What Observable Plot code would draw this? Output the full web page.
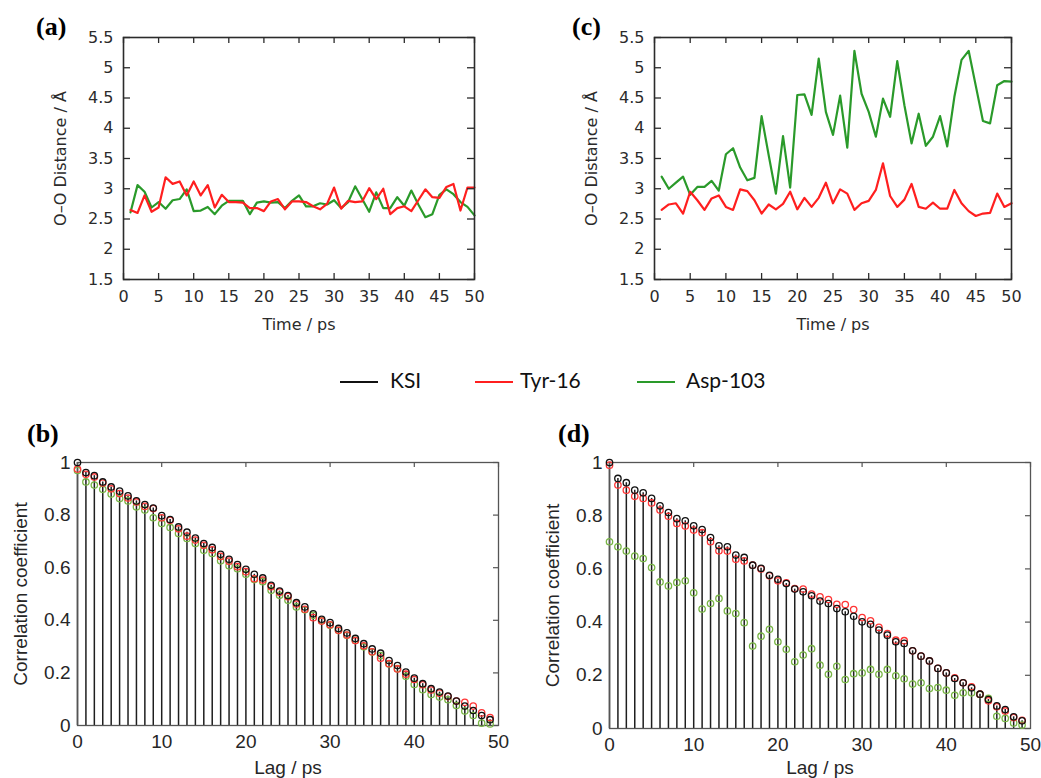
<!DOCTYPE html>
<html>
<head>
<meta charset="utf-8">
<script src="https://cdn.jsdelivr.net/npm/d3@7"></script>
<script src="https://cdn.jsdelivr.net/npm/@observablehq/plot@0.6"></script>
<style>
  html, body { margin: 0; padding: 0; background: #fff; overflow: hidden; }
  #root { position: relative; width: 1041px; height: 778px; background: #fff; }
  .panel { position: absolute; }
  .panel svg { display: block; }
  #overlay { position: absolute; left: 0; top: 0; pointer-events: none; }
</style>
</head>
<body>
<div id="root"></div>
<script>
// ---------- data ----------
const seriesNames = ["KSI", "Tyr-16", "Asp-103"];
const time = [1,2,3,4,5,6,7,8,9,10,11,12,13,14,15,16,17,18,19,20,21,22,23,24,25,26,27,28,29,30,31,32,33,34,35,36,37,38,39,40,41,42,43,44,45,46,47,48,49,50];
const lag = [0,1,2,3,4,5,6,7,8,9,10,11,12,13,14,15,16,17,18,19,20,21,22,23,24,25,26,27,28,29,30,31,32,33,34,35,36,37,38,39,40,41,42,43,44,45,46,47,48,49];

const timeTicks = [0,5,10,15,20,25,30,35,40,45,50];
const distanceTicks = [1.5,2,2.5,3,3.5,4,4.5,5,5.5];
const lagTicks = [0,10,20,30,40,50];
const corrTicks = [0,0.2,0.4,0.6,0.8,1];

// (a) O–O distance, panel a
const tyrA = [2.65,2.60,2.89,2.62,2.69,3.19,3.08,3.12,2.89,3.12,2.89,3.06,2.69,2.90,2.78,2.78,2.77,2.68,2.68,2.63,2.79,2.83,2.66,2.79,2.79,2.78,2.71,2.66,2.75,3.02,2.67,2.80,2.78,2.79,3.01,2.83,3.00,2.58,2.68,2.71,2.63,2.81,2.99,2.86,2.85,3.03,3.08,2.64,3.02,3.02];
const aspA = [2.61,3.06,2.95,2.69,2.78,2.67,2.81,2.83,2.99,2.63,2.64,2.70,2.58,2.72,2.80,2.80,2.80,2.58,2.77,2.79,2.77,2.78,2.68,2.80,2.89,2.71,2.71,2.76,2.74,2.81,2.68,2.78,3.04,2.83,2.62,2.94,2.68,2.68,2.86,2.72,2.97,2.74,2.53,2.58,2.90,2.99,2.91,2.78,2.70,2.56];
// (c) O–O distance, panel c
const tyrC = [2.65,2.74,2.76,2.59,2.95,2.81,2.65,2.84,2.89,2.70,2.65,2.99,2.96,2.81,2.59,2.74,2.66,2.75,2.95,2.66,2.85,2.70,2.85,3.10,2.76,2.99,2.92,2.65,2.76,2.80,2.98,3.42,2.88,2.70,2.82,3.08,2.70,2.67,2.77,2.67,2.67,2.98,2.76,2.63,2.55,2.59,2.60,2.92,2.70,2.76];
const aspC = [3.20,3.00,3.10,3.20,2.90,3.03,3.03,3.13,2.97,3.57,3.67,3.35,3.14,3.18,4.20,3.55,2.92,3.87,3.02,4.55,4.56,4.22,5.15,4.27,3.89,4.54,3.68,5.28,4.57,4.27,3.86,4.49,4.19,5.11,4.38,3.75,4.24,3.71,3.86,4.20,3.70,4.52,5.13,5.28,4.70,4.12,4.08,4.71,4.78,4.77];
// (b) autocorrelation
const ksiB = [1.0,0.962,0.95,0.926,0.907,0.891,0.873,0.854,0.84,0.827,0.798,0.783,0.755,0.735,0.713,0.692,0.677,0.651,0.632,0.612,0.594,0.575,0.561,0.533,0.511,0.494,0.467,0.451,0.425,0.404,0.391,0.369,0.352,0.331,0.311,0.291,0.275,0.247,0.228,0.203,0.18,0.159,0.14,0.127,0.112,0.093,0.074,0.057,0.038,0.022];
const tyrB = [0.975,0.955,0.945,0.922,0.9,0.882,0.865,0.85,0.833,0.825,0.79,0.78,0.748,0.72,0.705,0.685,0.668,0.643,0.625,0.604,0.585,0.558,0.553,0.528,0.507,0.49,0.462,0.442,0.41,0.397,0.383,0.362,0.344,0.323,0.303,0.28,0.256,0.235,0.215,0.195,0.175,0.155,0.135,0.123,0.11,0.093,0.088,0.074,0.048,0.03];
const aspB = [0.97,0.926,0.914,0.898,0.88,0.863,0.854,0.831,0.819,0.79,0.768,0.753,0.73,0.711,0.692,0.666,0.654,0.626,0.607,0.596,0.575,0.555,0.547,0.514,0.495,0.476,0.451,0.44,0.419,0.398,0.381,0.362,0.343,0.324,0.299,0.279,0.266,0.234,0.216,0.187,0.156,0.136,0.118,0.108,0.098,0.076,0.055,0.038,0.009,0.006];
// (d) autocorrelation
const ksiD = [1.0,0.94,0.924,0.896,0.886,0.865,0.837,0.812,0.789,0.781,0.762,0.748,0.718,0.687,0.683,0.652,0.643,0.614,0.602,0.576,0.561,0.545,0.524,0.514,0.499,0.479,0.47,0.451,0.439,0.422,0.401,0.392,0.37,0.351,0.326,0.32,0.292,0.272,0.254,0.226,0.209,0.188,0.172,0.153,0.129,0.109,0.085,0.071,0.044,0.029];
const tyrD = [0.99,0.915,0.896,0.873,0.865,0.848,0.821,0.798,0.771,0.761,0.746,0.736,0.702,0.668,0.667,0.636,0.63,0.614,0.6,0.574,0.555,0.548,0.526,0.524,0.505,0.495,0.485,0.467,0.466,0.447,0.417,0.405,0.38,0.357,0.332,0.33,0.292,0.272,0.254,0.226,0.209,0.19,0.172,0.157,0.129,0.104,0.082,0.066,0.041,0.031];
const aspD = [0.702,0.683,0.667,0.648,0.639,0.605,0.551,0.536,0.549,0.555,0.51,0.449,0.47,0.489,0.442,0.432,0.398,0.31,0.347,0.373,0.326,0.298,0.251,0.276,0.3,0.238,0.204,0.234,0.184,0.206,0.209,0.222,0.204,0.222,0.198,0.187,0.167,0.172,0.15,0.154,0.144,0.125,0.134,0.134,0.128,0.113,0.046,0.038,0.021,0.013];

// ---------- styles ----------
const lineColors = ["#111111", "#ff1f1f", "#2a9a2a"];
const markerColors = ["#111111", "#ff3535", "#78b545"];
const fmt = d => String(d);

const root = document.getElementById("root");
function place(svg, left, top) {
  const div = document.createElement("div");
  div.className = "panel";
  div.style.left = left + "px";
  div.style.top = top + "px";
  div.appendChild(svg);
  root.appendChild(div);
}

function linePanel(tyr, asp, g) {
  const rows = [];
  time.forEach((t, i) => rows.push({t, v: asp[i], s: "Asp-103"}));
  time.forEach((t, i) => rows.push({t, v: tyr[i], s: "Tyr-16"}));
  const pw = g.width - g.mL - g.mR, ph = g.height - g.mT - g.mB;
  const ink = "#2b2b2b";
  return Plot.plot({
    width: g.width, height: g.height,
    marginLeft: g.mL, marginRight: g.mR, marginTop: g.mT, marginBottom: g.mB,
    style: {fontFamily: "'DejaVu Sans', 'Liberation Sans', sans-serif", fontSize: "16px", color: ink, background: "transparent", overflow: "visible", maxWidth: "none"},
    x: {domain: [0, 50]},
    y: {domain: [1.5, 5.5]},
    color: {domain: seriesNames, range: lineColors},
    marks: [
      Plot.line(rows, {x: "t", y: "v", z: "s", stroke: "s", strokeWidth: 2.2}),
      Plot.frame({stroke: ink, strokeWidth: 1.6}),
      Plot.tickX(timeTicks, {x: d => d, insetTop: ph - 6, stroke: ink, strokeWidth: 1.3}),
      Plot.tickX(timeTicks, {x: d => d, insetBottom: ph - 6, stroke: ink, strokeWidth: 1.3}),
      Plot.tickY(distanceTicks, {y: d => d, insetRight: pw - 7, stroke: ink, strokeWidth: 1.3}),
      Plot.tickY(distanceTicks, {y: d => d, insetLeft: pw - 7, stroke: ink, strokeWidth: 1.3}),
      Plot.axisX({ticks: timeTicks, tickSize: 0, tickPadding: 11, tickFormat: fmt, fontSize: 16,
        label: "Time / ps", labelAnchor: "center", labelOffset: 50, labelArrow: "none"}),
      Plot.axisY({ticks: distanceTicks, tickSize: 0, tickPadding: 10, tickFormat: fmt, fontSize: 16,
        label: "O–O Distance / Å", labelAnchor: "center", labelOffset: 69, labelArrow: "none"})
    ]
  });
}

function stemPanel(ksi, tyr, asp, g) {
  const k = lag.map((l, i) => ({l, v: ksi[i], s: "KSI"}));
  const r = lag.map((l, i) => ({l, v: tyr[i], s: "Tyr-16"}));
  const a = lag.map((l, i) => ({l, v: asp[i], s: "Asp-103"}));
  const pw = g.width - g.mL - g.mR, ph = g.height - g.mT - g.mB;
  const ink = "#1e1e1e";
  return Plot.plot({
    width: g.width, height: g.height,
    marginLeft: g.mL, marginRight: g.mR, marginTop: g.mT, marginBottom: g.mB,
    style: {fontFamily: "'Liberation Sans', Arial, sans-serif", fontSize: "19px", color: "#262626", background: "transparent", overflow: "visible", maxWidth: "none"},
    x: {domain: [0, 50]},
    y: {domain: [0, 1]},
    color: {domain: seriesNames, range: markerColors},
    marks: [
      Plot.ruleX(k, {x: "l", y: "v", stroke: ink, strokeWidth: 1.5}),
      Plot.frame({stroke: "#555", strokeWidth: 1.3}),
      Plot.tickX(lagTicks, {x: d => d, insetBottom: ph - 5, stroke: "#555", strokeWidth: 1.2}),
      Plot.tickY(corrTicks, {y: d => d, insetLeft: pw - 5, stroke: "#555", strokeWidth: 1.2}),
      Plot.dot(a, {x: "l", y: "v", stroke: "s", r: 3.2, strokeWidth: 1.3}),
      Plot.dot(r, {x: "l", y: "v", stroke: "s", r: 3.2, strokeWidth: 1.3}),
      Plot.dot(k, {x: "l", y: "v", stroke: "s", r: 3.2, strokeWidth: 1.3}),
      Plot.axisX({ticks: lagTicks, tickSize: 0, tickPadding: 9, tickFormat: fmt, fontSize: 19,
        label: "Lag / ps", labelAnchor: "center", labelOffset: g.labelX, labelArrow: "none"}),
      Plot.axisY({ticks: corrTicks, tickSize: 0, tickPadding: 7, tickFormat: fmt, fontSize: 19,
        label: "Correlation coefficient", labelAnchor: "center", labelOffset: 64, labelArrow: "none"})
    ]
  });
}

place(linePanel(tyrA, aspA, {width: 520, height: 340, mL: 123, mR: 46, mT: 37, mB: 61}), 0, 0);
place(linePanel(tyrC, aspC, {width: 511, height: 340, mL: 124, mR: 30, mT: 37, mB: 61}), 530, 0);
place(stemPanel(ksiB, tyrB, aspB, {width: 520, height: 378, mL: 77, mR: 22, mT: 62, mB: 53, labelX: 48}), 0, 400);
place(stemPanel(ksiD, tyrD, aspD, {width: 511, height: 378, mL: 79, mR: 11, mT: 62, mB: 50, labelX: 45}), 530, 400);

// ---------- panel letters and shared legend ----------
const ov = d3.select(root).append("svg").attr("id", "overlay").attr("width", 1041).attr("height", 778);
const letters = [["(a)", 36, 35], ["(c)", 572, 35], ["(b)", 27, 442], ["(d)", 558, 442]];
ov.selectAll("text.letter").data(letters).join("text")
  .attr("class", "letter")
  .attr("x", d => d[1]).attr("y", d => d[2])
  .attr("font-family", "'Liberation Serif', 'Times New Roman', serif")
  .attr("font-weight", "bold").attr("font-size", 26).attr("fill", "#000")
  .text(d => d[0]);

const legendItems = [[seriesNames[0], 340, lineColors[0]], [seriesNames[1], 475, lineColors[1]], [seriesNames[2], 637, lineColors[2]]];
const lg = ov.selectAll("g.lg").data(legendItems).join("g").attr("class", "lg")
  .attr("transform", d => `translate(${d[1]},382)`);
lg.append("line").attr("x1", 0).attr("x2", 38).attr("y1", 0).attr("y2", 0)
  .attr("stroke", d => d[2]).attr("stroke-width", 2);
lg.append("text").attr("x", d => d[0] === "KSI" ? 50 : (d[0] === "Tyr-16" ? 45 : 49)).attr("y", 6)
  .attr("font-family", "Lato, 'Open Sans', sans-serif").attr("font-size", 21).attr("fill", "#111")
  .text(d => d[0]);
</script>
</body>
</html>
